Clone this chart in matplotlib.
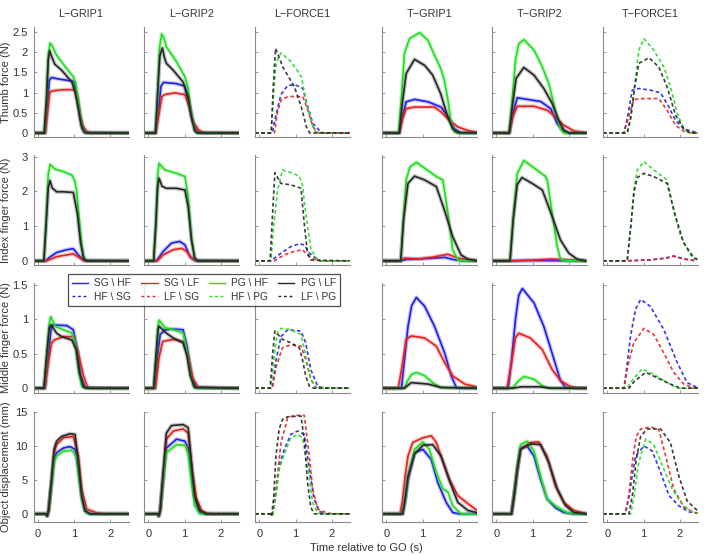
import matplotlib
matplotlib.use("Agg")
import matplotlib.pyplot as plt
from matplotlib.lines import Line2D

plt.rcParams['font.family'] = ['Liberation Sans', 'DejaVu Sans']

# ---------------- data: curves as (time s, value) knots -----------------
# order in each panel: blue, red, green, black
col_titles = ["L\u2212GRIP1", "L\u2212GRIP2", "L\u2212FORCE1", "T\u2212GRIP1", "T\u2212GRIP2", "T\u2212FORCE1"]
row_labels = ["Thumb force (N)", "Index finger force (N)", "Middle finger force (N)", "Object displacement (mm)"]
solid_names = ["SG \\ HF", "SG \\ LF", "PG \\ HF", "PG \\ LF"]
dashed_names = ["HF \\ SG", "LF \\ SG", "HF \\ PG", "LF \\ PG"]
x_ticks = [0, 1, 2]
y_ticks = [[0, 0.5, 1, 1.5, 2, 2.5], [0, 1, 2, 3], [0, 0.5, 1, 1.5], [0, 5, 10, 15]]
y_tick_labels = [["0", "0.5", "1", "1.5", "2", "2.5"], ["0", "1", "2", "3"], ["0", "0.5", "1", "1.5"], ["0", "5", "10", "15"]]
y_limits = [(-0.1, 2.62), (-0.12, 3.05), (-0.07, 1.53), (-1.2, 15.0)]
x_limits = (-0.116, 2.5)

# ---- Thumb force ----
thumb_lgrip1 = [
    [(-0.12,0),(0.2,0),(0.26,0.6),(0.32,1.3),(0.38,1.37),(0.6,1.33),(0.9,1.29),(1.0,1.27),(1.08,0.95),(1.15,0.45),(1.22,0.12),(1.3,0.01),(2.5,0)],
    [(-0.12,0),(0.21,0),(0.27,0.5),(0.33,1.0),(0.4,1.04),(0.7,1.07),(1.02,1.07),(1.1,0.85),(1.18,0.4),(1.26,0.15),(1.35,0.04),(1.45,0),(2.5,0)],
    [(-0.12,0),(0.18,0),(0.24,0.8),(0.29,1.9),(0.34,2.22),(0.4,2.15),(0.52,1.92),(0.8,1.59),(0.98,1.39),(1.05,1.2),(1.12,0.8),(1.2,0.25),(1.28,0.03),(1.35,0),(2.5,0)],
    [(-0.12,0),(0.18,0),(0.24,0.8),(0.29,1.8),(0.33,2.03),(0.38,1.9),(0.47,1.7),(0.66,1.55),(0.94,1.26),(1.03,1.0),(1.12,0.6),(1.2,0.2),(1.28,0.02),(1.35,0),(2.5,0)],
]
thumb_lgrip2 = [
    [(-0.12,0),(0.2,0),(0.28,0.5),(0.35,1.15),(0.42,1.25),(0.78,1.22),(1.0,1.16),(1.1,0.81),(1.22,0.31),(1.33,0.05),(1.45,0),(2.5,0)],
    [(-0.12,0),(0.21,0),(0.3,0.5),(0.38,0.9),(0.46,0.95),(0.73,0.99),(1.01,0.95),(1.13,0.64),(1.24,0.27),(1.38,0.08),(1.52,0.01),(2.5,0)],
    [(-0.12,0),(0.2,0),(0.26,1.0),(0.31,2.1),(0.37,2.45),(0.43,2.35),(0.5,2.13),(0.78,1.76),(1.01,1.39),(1.1,1.1),(1.19,0.48),(1.28,0.07),(1.35,0),(2.5,0)],
    [(-0.12,0),(0.2,0),(0.26,1.0),(0.32,1.9),(0.39,2.1),(0.45,1.85),(0.5,1.72),(0.69,1.55),(0.96,1.26),(1.1,0.89),(1.19,0.4),(1.28,0.05),(1.35,0),(2.5,0)],
]
thumb_lforce1 = [
    [(-0.12,0),(0.36,0),(0.45,0.4),(0.6,0.95),(0.79,1.18),(1.02,1.18),(1.2,1.1),(1.34,0.64),(1.48,0.23),(1.7,0.02),(1.8,0),(2.5,0)],
    [(-0.12,0),(0.42,0),(0.5,0.5),(0.6,0.81),(0.79,0.9),(1.2,0.9),(1.34,0.56),(1.48,0.15),(1.62,0),(2.5,0)],
    [(-0.12,0),(0.33,0),(0.4,1.0),(0.47,1.75),(0.6,1.98),(0.88,1.76),(1.16,1.39),(1.3,0.73),(1.48,0.15),(1.57,0),(2.5,0)],
    [(-0.12,0),(0.33,0),(0.39,1.2),(0.45,2.09),(0.65,1.63),(0.97,1.14),(1.16,0.64),(1.3,0.15),(1.39,0),(2.5,0)],
]
thumb_tgrip1 = [
    [(-0.12,0),(0.36,0),(0.45,0.4),(0.55,0.77),(0.78,0.83),(1.15,0.77),(1.51,0.64),(1.7,0.4),(1.88,0.1),(2.06,0),(2.5,0)],
    [(-0.12,0),(0.36,0),(0.45,0.35),(0.55,0.6),(0.78,0.64),(1.33,0.64),(1.51,0.52),(1.74,0.31),(1.97,0.15),(2.25,0.06),(2.48,0.02)],
    [(-0.12,0),(0.34,0),(0.42,0.9),(0.5,1.96),(0.64,2.33),(0.92,2.48),(1.15,2.29),(1.33,1.92),(1.5,1.6),(1.6,1.3),(1.7,0.81),(1.79,0.23),(1.88,0.02),(2.0,0),(2.5,0)],
    [(-0.12,0),(0.36,0),(0.44,0.7),(0.55,1.47),(0.78,1.82),(1.06,1.67),(1.28,1.43),(1.5,0.97),(1.68,0.44),(1.83,0.1),(1.97,0.01),(2.5,0)],
]
thumb_tgrip2 = [
    [(-0.12,0),(0.36,0),(0.45,0.45),(0.58,0.87),(0.85,0.83),(1.22,0.78),(1.5,0.6),(1.68,0.23),(1.86,0.03),(2.0,0),(2.5,0)],
    [(-0.12,0),(0.36,0),(0.46,0.4),(0.58,0.66),(1.04,0.66),(1.41,0.56),(1.63,0.4),(1.86,0.19),(2.14,0.05),(2.42,0.01)],
    [(-0.12,0),(0.35,0),(0.44,0.8),(0.53,1.8),(0.62,2.2),(0.76,2.31),(1.04,2.05),(1.27,1.63),(1.45,1.22),(1.63,0.56),(1.77,0.1),(1.86,0),(2.5,0)],
    [(-0.12,0),(0.36,0),(0.45,0.7),(0.55,1.35),(0.76,1.62),(1.04,1.43),(1.31,1.1),(1.54,0.73),(1.72,0.31),(1.86,0.08),(2.0,0),(2.5,0)],
]
thumb_tforce1 = [
    [(-0.12,0),(0.46,0),(0.55,0.35),(0.69,1.06),(0.87,1.1),(1.19,1.06),(1.47,0.99),(1.7,0.64),(1.88,0.31),(2.11,0.1),(2.43,0.02)],
    [(-0.12,0),(0.46,0),(0.56,0.3),(0.73,0.83),(1.01,0.85),(1.42,0.85),(1.65,0.56),(1.88,0.19),(2.11,0.04),(2.3,0),(2.5,0)],
    [(-0.12,0),(0.55,0),(0.64,0.3),(0.73,0.97),(0.87,2.05),(1.01,2.33),(1.28,2.05),(1.56,1.63),(1.74,1.14),(1.93,0.48),(2.11,0.1),(2.29,0.01),(2.5,0)],
    [(-0.12,0),(0.55,0),(0.65,0.4),(0.75,1.1),(0.87,1.72),(1.15,1.86),(1.42,1.63),(1.65,1.14),(1.88,0.44),(2.11,0.1),(2.29,0),(2.5,0)],
]

# ---- Index finger force ----
index_lgrip1 = [
    [(-0.12,0),(0.22,0),(0.35,0.12),(0.52,0.24),(0.8,0.32),(0.98,0.35),(1.12,0.17),(1.26,0.01),(2.5,0)],
    [(-0.12,0),(0.25,0),(0.52,0.12),(0.8,0.17),(0.98,0.2),(1.16,0.08),(1.3,0),(2.5,0)],
    [(-0.12,0),(0.17,0),(0.23,1.2),(0.29,2.5),(0.34,2.78),(0.48,2.64),(0.71,2.57),(0.94,2.47),(1.02,2.3),(1.07,2.04),(1.17,0.89),(1.26,0.12),(1.35,0),(2.5,0)],
    [(-0.12,0),(0.17,0),(0.23,1.0),(0.29,2.1),(0.34,2.31),(0.4,2.1),(0.52,1.99),(0.71,1.99),(0.98,1.97),(1.09,1.37),(1.18,0.51),(1.27,0.05),(1.35,0),(2.5,0)],
]
index_lgrip2 = [
    [(-0.12,0),(0.23,0),(0.41,0.27),(0.64,0.51),(0.87,0.56),(1.01,0.46),(1.15,0.12),(1.28,0.01),(2.5,0)],
    [(-0.12,0),(0.25,0),(0.41,0.17),(0.69,0.32),(0.92,0.36),(1.06,0.27),(1.19,0.08),(1.33,0),(2.5,0)],
    [(-0.12,0),(0.15,0),(0.21,1.2),(0.26,2.5),(0.3,2.81),(0.46,2.62),(0.78,2.52),(1.01,2.43),(1.1,1.85),(1.19,0.7),(1.28,0.08),(1.36,0),(2.5,0)],
    [(-0.12,0),(0.15,0),(0.21,1.0),(0.26,2.1),(0.3,2.38),(0.38,2.15),(0.5,2.09),(0.78,2.09),(1.01,2.04),(1.1,1.56),(1.19,0.6),(1.28,0.08),(1.36,0),(2.5,0)],
]
index_lforce1 = [
    [(-0.12,0),(0.32,0),(0.6,0.22),(0.87,0.41),(1.1,0.49),(1.24,0.46),(1.38,0.22),(1.56,0.08),(1.7,0),(2.5,0)],
    [(-0.12,0),(0.41,0),(0.69,0.17),(0.96,0.27),(1.19,0.32),(1.33,0.17),(1.51,0.05),(1.65,0),(2.5,0)],
    [(-0.12,0),(0.32,0),(0.4,1.0),(0.5,2.0),(0.64,2.62),(0.87,2.54),(1.1,2.45),(1.19,2.19),(1.28,1.37),(1.42,0.36),(1.56,0.08),(1.7,0),(2.5,0)],
    [(-0.12,0),(0.3,0),(0.36,1.2),(0.43,2.54),(0.6,2.23),(0.87,2.19),(1.15,2.09),(1.24,1.08),(1.33,0.22),(1.42,0.02),(2.5,0)],
]
index_tgrip1 = [
    [(-0.12,0),(0.4,0),(0.55,0.04),(1.0,0.06),(1.33,0.08),(1.61,0.1),(1.88,0.03),(2.1,0),(2.5,0)],
    [(-0.12,0),(0.4,0),(0.5,0.08),(0.87,0.05),(1.24,0.1),(1.7,0.19),(1.97,0.08),(2.25,0.03),(2.5,0.01)],
    [(-0.12,0),(0.4,0),(0.47,1.2),(0.55,2.33),(0.65,2.7),(0.83,2.84),(1.1,2.64),(1.38,2.43),(1.56,2.33),(1.7,1.37),(1.83,0.32),(1.97,0.03),(2.1,0),(2.5,0)],
    [(-0.12,0),(0.4,0),(0.48,1.2),(0.6,2.23),(0.78,2.44),(1.06,2.33),(1.38,2.14),(1.6,1.47),(1.83,0.7),(2.06,0.17),(2.25,0.05),(2.5,0)],
]
index_tgrip2 = [
    [(-0.12,0),(0.4,0),(1.0,0.01),(2.5,0)],
    [(-0.12,0),(0.4,0),(1.0,0.02),(1.5,0.05),(1.8,0.04),(2.2,0.01),(2.5,0)],
    [(-0.12,0),(0.38,0),(0.47,1.3),(0.58,2.52),(0.76,2.89),(1.04,2.68),(1.36,2.43),(1.41,2.3),(1.54,1.37),(1.68,0.41),(1.77,0.05),(1.9,0),(2.5,0)],
    [(-0.12,0),(0.38,0),(0.47,1.2),(0.58,2.2),(0.71,2.4),(0.99,2.23),(1.27,2.04),(1.54,1.28),(1.77,0.6),(2.0,0.22),(2.23,0.05),(2.45,0)],
]
index_tforce1 = [
    [(-0.12,0),(0.55,0),(1.2,0.03),(1.6,0.08),(1.83,0.14),(2.1,0.06),(2.4,0.01)],
    [(-0.12,0),(0.55,0),(1.2,0.03),(1.6,0.07),(1.83,0.13),(2.1,0.05),(2.4,0.01)],
    [(-0.12,0),(0.55,0),(0.65,1.0),(0.74,2.1),(0.83,2.62),(1.01,2.86),(1.28,2.62),(1.65,2.33),(1.83,1.47),(2.02,0.7),(2.29,0.17),(2.48,0.05)],
    [(-0.12,0),(0.55,0),(0.65,1.0),(0.74,2.0),(0.83,2.4),(1.01,2.52),(1.28,2.43),(1.65,2.23),(1.88,1.28),(2.11,0.51),(2.39,0.08),(2.5,0.03)],
]

# ---- Middle finger force ----
middle_lgrip1 = [
    [(-0.12,0),(0.2,0),(0.3,0.5),(0.37,0.88),(0.42,0.92),(0.8,0.91),(0.98,0.85),(1.09,0.56),(1.18,0.18),(1.3,0.01),(2.5,0)],
    [(-0.12,0),(0.2,0),(0.3,0.4),(0.38,0.65),(0.45,0.7),(0.71,0.75),(0.98,0.75),(1.12,0.51),(1.26,0.18),(1.37,0.02),(1.45,0),(2.5,0)],
    [(-0.12,0),(0.17,0),(0.25,0.5),(0.32,0.95),(0.36,1.04),(0.48,0.9),(0.71,0.85),(0.94,0.8),(1.03,0.66),(1.12,0.27),(1.21,0.03),(1.3,0),(2.5,0)],
    [(-0.12,0),(0.17,0),(0.25,0.5),(0.32,0.88),(0.37,0.92),(0.52,0.8),(0.66,0.75),(0.94,0.7),(1.06,0.56),(1.15,0.23),(1.26,0.02),(1.35,0),(2.5,0)],
]
middle_lgrip2 = [
    [(-0.12,0),(0.18,0),(0.26,0.5),(0.33,0.78),(0.46,0.85),(0.69,0.86),(0.96,0.85),(1.07,0.61),(1.19,0.18),(1.33,0.01),(2.5,0)],
    [(-0.12,0),(0.2,0),(0.3,0.45),(0.4,0.68),(0.69,0.71),(0.96,0.68),(1.1,0.47),(1.24,0.13),(1.38,0.01),(2.5,0)],
    [(-0.12,0),(0.15,0),(0.22,0.5),(0.27,0.9),(0.3,0.99),(0.46,0.88),(0.69,0.85),(0.96,0.8),(1.06,0.56),(1.15,0.23),(1.24,0.03),(1.32,0),(2.5,0)],
    [(-0.12,0),(0.15,0),(0.22,0.5),(0.27,0.85),(0.3,0.9),(0.5,0.8),(0.69,0.73),(0.96,0.66),(1.07,0.47),(1.16,0.18),(1.28,0.01),(2.5,0)],
]
middle_lforce1 = [
    [(-0.12,0),(0.36,0),(0.46,0.4),(0.6,0.75),(0.78,0.85),(1.15,0.83),(1.28,0.66),(1.42,0.27),(1.61,0.03),(1.75,0),(2.5,0)],
    [(-0.12,0),(0.36,0),(0.46,0.3),(0.64,0.59),(0.87,0.63),(1.15,0.61),(1.28,0.42),(1.42,0.13),(1.56,0.01),(2.5,0)],
    [(-0.12,0),(0.32,0),(0.42,0.5),(0.5,0.8),(0.6,0.87),(0.87,0.85),(1.15,0.78),(1.28,0.47),(1.42,0.13),(1.56,0.01),(2.5,0)],
    [(-0.12,0),(0.3,0),(0.37,0.5),(0.43,0.83),(0.64,0.71),(0.87,0.66),(1.1,0.59),(1.19,0.42),(1.28,0.18),(1.38,0.03),(1.5,0),(2.5,0)],
]
middle_tgrip1 = [
    [(-0.12,0),(0.42,0),(0.5,0.4),(0.6,0.9),(0.7,1.2),(0.83,1.32),(1.06,1.19),(1.33,0.9),(1.61,0.51),(1.79,0.18),(1.93,0.01),(2.05,0),(2.5,0)],
    [(-0.12,0),(0.33,0),(0.43,0.3),(0.55,0.71),(0.69,0.76),(1.06,0.73),(1.38,0.61),(1.61,0.37),(1.83,0.18),(2.16,0.06),(2.48,0.02)],
    [(-0.12,0),(0.5,0),(0.6,0.12),(0.7,0.2),(0.83,0.23),(1.06,0.18),(1.33,0.06),(1.51,0.01),(2.5,0)],
    [(-0.12,0),(0.5,0),(0.69,0.08),(1.15,0.06),(1.51,0.01),(2.5,0)],
]
middle_tgrip2 = [
    [(-0.12,0),(0.33,0),(0.42,0.4),(0.53,1.0),(0.62,1.35),(0.72,1.45),(1.04,1.24),(1.31,0.9),(1.59,0.42),(1.77,0.11),(1.91,0.01),(2.5,0)],
    [(-0.12,0),(0.3,0),(0.4,0.3),(0.53,0.73),(0.62,0.8),(0.94,0.73),(1.27,0.56),(1.54,0.27),(1.77,0.11),(2.05,0.02),(2.3,0),(2.5,0)],
    [(-0.12,0),(0.45,0),(0.6,0.1),(0.76,0.17),(1.04,0.13),(1.31,0.02),(1.5,0),(2.5,0)],
    [(-0.12,0),(0.45,0),(0.7,0.02),(1.2,0.02),(1.5,0),(2.5,0)],
]
middle_tforce1 = [
    [(-0.12,0),(0.46,0),(0.55,0.35),(0.64,0.75),(0.78,1.15),(0.92,1.29),(1.19,1.19),(1.56,0.85),(1.93,0.37),(2.2,0.08),(2.48,0.01)],
    [(-0.12,0),(0.46,0),(0.56,0.3),(0.73,0.66),(1.01,0.87),(1.28,0.78),(1.56,0.51),(1.83,0.23),(2.11,0.06),(2.39,0),(2.5,0)],
    [(-0.12,0),(0.55,0),(0.7,0.12),(0.96,0.28),(1.28,0.2),(1.65,0.08),(1.93,0),(2.5,0)],
    [(-0.12,0),(0.6,0),(0.75,0.1),(1.06,0.23),(1.38,0.15),(1.74,0.06),(2.02,0),(2.5,0)],
]

# ---- Object displacement ----
disp_lgrip1 = [
    [(-0.12,0),(0.22,0),(0.26,-0.3),(0.3,0.5),(0.38,4.5),(0.45,8.0),(0.52,9.0),(0.71,9.7),(0.89,9.9),(1.03,9.5),(1.12,6.6),(1.21,2.7),(1.3,0.4),(1.45,0),(2.5,0)],
    [(-0.12,0),(0.22,0),(0.26,-0.3),(0.3,0.5),(0.38,4.8),(0.45,9.0),(0.52,10.2),(0.71,11.2),(0.98,11.4),(1.12,8.5),(1.21,3.7),(1.35,0.7),(1.62,0.15),(1.8,0),(2.5,0)],
    [(-0.12,0),(0.22,0),(0.26,-0.3),(0.3,0.5),(0.38,4.2),(0.45,7.5),(0.52,8.5),(0.71,9.25),(0.94,9.35),(1.06,8.5),(1.15,4.6),(1.24,1.5),(1.35,0.1),(1.45,0),(2.5,0)],
    [(-0.12,0),(0.22,0),(0.26,-0.3),(0.3,0.5),(0.38,5.0),(0.45,9.5),(0.52,10.7),(0.66,11.4),(0.89,11.8),(1.03,11.7),(1.12,7.5),(1.21,2.7),(1.3,0.5),(1.44,0),(2.5,0)],
]
disp_lgrip2 = [
    [(-0.12,0),(0.25,0),(0.29,-0.3),(0.33,0.5),(0.41,5.0),(0.5,9.7),(0.78,11.0),(1.01,10.7),(1.1,9.7),(1.19,6.1),(1.28,2.2),(1.42,0.2),(1.55,0),(2.5,0)],
    [(-0.12,0),(0.25,0),(0.29,-0.3),(0.33,0.5),(0.41,5.5),(0.5,11.0),(0.69,12.2),(0.96,12.5),(1.1,11.9),(1.22,6.1),(1.33,2.2),(1.47,0.5),(1.61,0.1),(1.8,0),(2.5,0)],
    [(-0.12,0),(0.25,0),(0.29,-0.3),(0.33,0.5),(0.41,4.6),(0.5,9.0),(0.78,10.2),(1.01,10.1),(1.1,8.8),(1.19,4.6),(1.28,1.2),(1.42,0),(2.5,0)],
    [(-0.12,0),(0.25,0),(0.29,-0.3),(0.33,0.5),(0.41,6.0),(0.5,11.9),(0.64,13.0),(0.96,13.15),(1.1,12.7),(1.19,7.5),(1.28,2.7),(1.42,0.5),(1.6,0),(2.5,0)],
]
disp_lforce1 = [
    [(-0.12,0),(0.3,0),(0.36,-0.3),(0.45,2.5),(0.55,7.0),(0.69,9.5),(0.87,11.7),(1.06,12.2),(1.24,11.7),(1.38,6.6),(1.51,2.2),(1.65,0.4),(1.8,0),(2.5,0)],
    [(-0.12,0),(0.3,0),(0.36,-0.3),(0.45,3.0),(0.6,10.5),(0.78,14.1),(0.96,14.5),(1.24,14.5),(1.38,8.5),(1.47,3.7),(1.61,0.7),(1.88,0.1),(2.1,0),(2.5,0)],
    [(-0.12,0),(0.3,0),(0.36,-0.3),(0.45,2.3),(0.55,6.5),(0.69,8.8),(0.87,11.2),(1.06,11.7),(1.19,11.2),(1.33,7.1),(1.47,1.7),(1.61,0.1),(1.75,0),(2.5,0)],
    [(-0.12,0),(0.3,0),(0.34,-0.4),(0.4,2.5),(0.46,8.5),(0.55,12.5),(0.64,13.9),(0.78,14.3),(1.15,14.4),(1.24,11.0),(1.33,4.6),(1.42,1.0),(1.51,0),(2.5,0)],
]
disp_tgrip1 = [
    [(-0.12,0),(0.45,0),(0.52,2.0),(0.6,5.0),(0.78,9.0),(1.01,9.5),(1.24,8.0),(1.42,4.6),(1.65,1.7),(1.83,0.2),(2.0,0),(2.5,0)],
    [(-0.12,0),(0.38,0),(0.45,2.0),(0.52,5.5),(0.6,8.5),(0.73,10.5),(1.01,11.2),(1.24,11.5),(1.38,10.5),(1.51,8.5),(1.74,5.1),(1.97,2.7),(2.25,1.5),(2.48,0.6)],
    [(-0.12,0),(0.45,0),(0.52,2.0),(0.6,5.5),(0.78,9.5),(1.01,10.6),(1.19,9.5),(1.38,6.1),(1.56,3.7),(1.7,3.2),(1.83,1.2),(2.06,0),(2.5,0)],
    [(-0.12,0),(0.45,0),(0.52,2.0),(0.6,5.5),(0.78,8.8),(1.01,10.1),(1.28,10.2),(1.51,8.5),(1.74,4.9),(1.97,1.7),(2.25,0.5),(2.48,0.2)],
]
disp_tgrip2 = [
    [(-0.12,0),(0.42,0),(0.5,3.0),(0.58,6.5),(0.67,9.7),(0.85,10.0),(1.04,8.5),(1.22,5.1),(1.4,2.2),(1.63,0.9),(1.86,0.2),(2.1,0),(2.5,0)],
    [(-0.12,0),(0.42,0),(0.5,3.0),(0.58,6.5),(0.67,9.5),(0.94,10.5),(1.17,10.6),(1.4,8.5),(1.63,4.1),(1.86,1.7),(2.14,0.5),(2.42,0.1)],
    [(-0.12,0),(0.42,0),(0.5,3.0),(0.58,6.8),(0.67,10.2),(0.85,10.7),(1.04,9.25),(1.22,5.6),(1.4,2.2),(1.68,1.0),(1.95,0.2),(2.2,0),(2.5,0)],
    [(-0.12,0),(0.42,0),(0.5,3.0),(0.58,6.5),(0.67,9.5),(0.94,10.3),(1.22,10.2),(1.45,7.5),(1.68,3.7),(1.91,1.2),(2.14,0.2),(2.5,0)],
]
disp_tforce1 = [
    [(-0.12,0),(0.5,0),(0.6,2.5),(0.7,6.0),(0.78,8.5),(1.01,10.0),(1.24,9.25),(1.47,6.1),(1.7,2.7),(1.97,1.2),(2.25,0.3),(2.5,0.1)],
    [(-0.12,0),(0.5,0),(0.6,3.0),(0.7,8.0),(0.8,11.4),(0.92,12.5),(1.19,12.8),(1.42,12.4),(1.61,8.5),(1.83,3.7),(2.11,1.0),(2.39,0.2),(2.5,0.1)],
    [(-0.12,0),(0.65,0),(0.75,3.0),(0.85,7.0),(0.92,8.5),(1.06,11.0),(1.28,10.2),(1.56,6.6),(1.79,3.7),(2.02,1.7),(2.29,0.4),(2.5,0.1)],
    [(-0.12,0),(0.6,0),(0.7,3.0),(0.8,8.0),(0.92,11.4),(1.1,12.5),(1.47,12.5),(1.74,10.5),(1.97,5.6),(2.2,1.9),(2.48,0.5)],
]

panels = [
    [thumb_lgrip1, thumb_lgrip2, thumb_lforce1, thumb_tgrip1, thumb_tgrip2, thumb_tforce1],
    [index_lgrip1, index_lgrip2, index_lforce1, index_tgrip1, index_tgrip2, index_tforce1],
    [middle_lgrip1, middle_lgrip2, middle_lforce1, middle_tgrip1, middle_tgrip2, middle_tforce1],
    [disp_lgrip1, disp_lgrip2, disp_lforce1, disp_tgrip1, disp_tgrip2, disp_tforce1],
]

# ---------------- style / layout -----------------
colors = ["#1f1fe6", "#e62222", "#22dd22", "#262626"]
dash = (0, (2.2, 1.6))
W, H = 707, 555
col_left_px = [33.5, 144, 255, 382, 492, 603]
row_top_px = [27, 155, 283, 412]
ax_w_px, ax_h_px = 95, 110
spine_c = "#8a8a8a"
text_c = "#333333"

fig = plt.figure(figsize=(W / 100, H / 100), dpi=100)

for r in range(4):
    for c in range(6):
        ax = fig.add_axes([col_left_px[c] / W, 1 - (row_top_px[r] + ax_h_px) / H, ax_w_px / W, ax_h_px / H])
        is_force = (c % 3 == 2)
        for k in range(4):
            curve = panels[r][c][k]
            ts = [p[0] for p in curve]
            vs = [p[1] for p in curve]
            if is_force:
                ax.plot(ts, vs, color=colors[k], lw=1.2, linestyle=dash, alpha=0.9)
            else:
                ax.plot(ts, vs, color=colors[k], lw=3.0, alpha=0.25, solid_capstyle='round')
                ax.plot(ts, vs, color=colors[k], lw=1.2)
        ax.set_xlim(*x_limits)
        ax.set_ylim(*y_limits[r])
        ax.set_xticks(x_ticks)
        ax.set_yticks(y_ticks[r])
        if c == 0:
            ax.set_yticklabels(y_tick_labels[r])
            ax.set_ylabel(row_labels[r], fontsize=8, color=text_c)
            ax.yaxis.set_label_coords(-0.235, 0.5)
        else:
            ax.set_yticklabels([])
        if r == 3:
            ax.set_xticklabels([str(x) for x in x_ticks])
        else:
            ax.set_xticklabels([])
        if r == 0:
            ax.set_title(col_titles[c], fontsize=7.8, color=text_c, pad=7.5)
        for s in ["top", "right"]:
            ax.spines[s].set_visible(False)
        for s in ["left", "bottom"]:
            ax.spines[s].set_color(spine_c)
            ax.spines[s].set_linewidth(0.8)
        ax.tick_params(direction="in", length=2.5, width=0.6, color=spine_c,
                       labelsize=8, labelcolor=text_c, pad=4)
        ax.tick_params(axis="x", pad=5)

fig.text(366 / W, 1 - 548 / H, "Time relative to GO (s)", ha="center", va="center",
         fontsize=8, color=text_c)

handles = []
labels = []
for k in range(4):
    handles.append(Line2D([], [], color=colors[k], lw=1.0))
    labels.append(solid_names[k])
    handles.append(Line2D([], [], color=colors[k], lw=1.0, linestyle=(0, (2, 2))))
    labels.append(dashed_names[k])
leg = fig.legend(handles, labels, ncol=4, loc="upper left",
                 bbox_to_anchor=(68 / W, 1 - 274 / H), borderaxespad=0,
                 fontsize=7.3, frameon=True, fancybox=False, handlelength=1.6,
                 handletextpad=0.6, columnspacing=1.0, labelspacing=0.35,
                 borderpad=0.4)
leg.get_frame().set_edgecolor("#222222")
leg.get_frame().set_linewidth(0.9)
for t in leg.get_texts():
    t.set_color(text_c)

fig.savefig("out.png", dpi=100)
